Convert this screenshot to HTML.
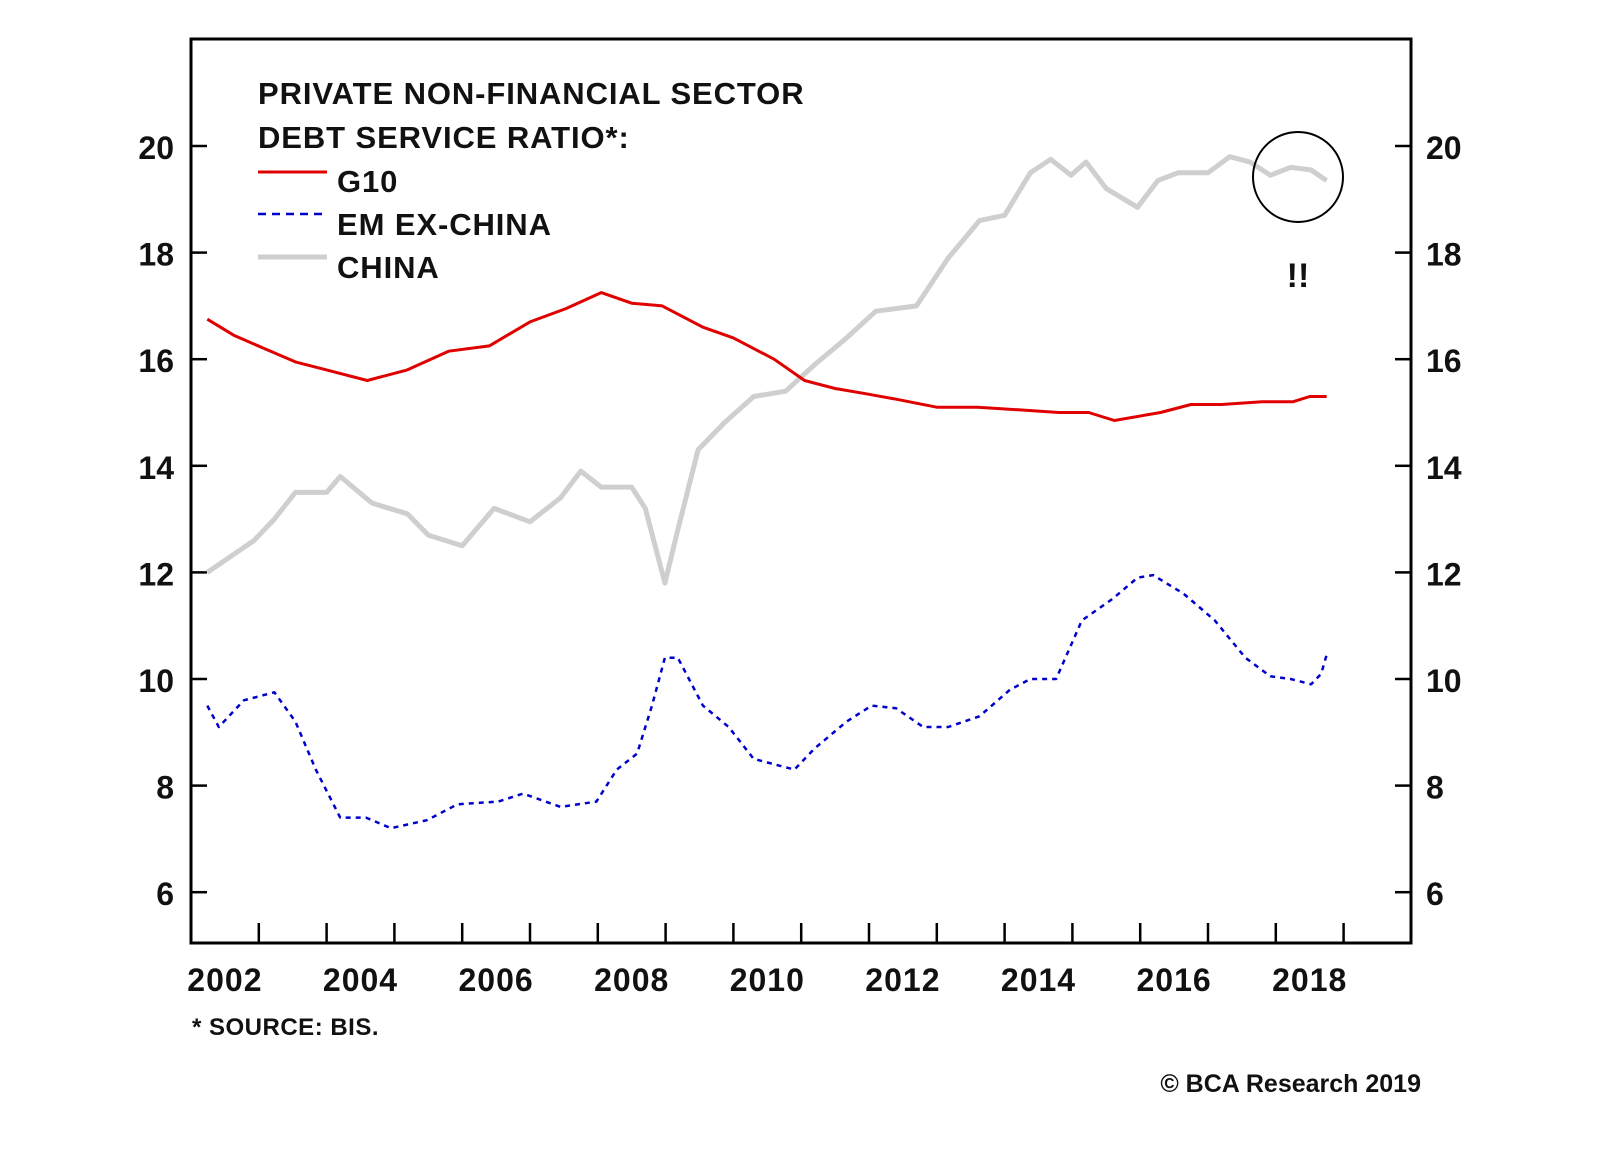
<!DOCTYPE html>
<html><head><meta charset="utf-8"><style>
body{margin:0;background:#fff;width:1600px;height:1152px;overflow:hidden}
svg text{font-family:"Liberation Sans",Arial,sans-serif;font-weight:bold;fill:#111}
</style></head><body>
<svg id="chart" width="1600" height="1152" xmlns="http://www.w3.org/2000/svg">
<g id="axes"></g>
<g id="series"></g>
<g>
<text x="258" y="104" font-size="31" letter-spacing="0.9">PRIVATE NON-FINANCIAL SECTOR</text>
<text x="258" y="148" font-size="31" letter-spacing="0.9">DEBT SERVICE RATIO*:</text>
<line x1="258" y1="172" x2="327" y2="172" stroke="#e00000" stroke-width="3"/>
<text x="337" y="192" font-size="31" letter-spacing="0.9">G10</text>
<line x1="258" y1="214" x2="327" y2="214" stroke="#0000cc" stroke-width="2.5" stroke-dasharray="8,6"/>
<text x="337" y="235" font-size="31" letter-spacing="0.9">EM EX-CHINA</text>
<line x1="258" y1="257" x2="327" y2="257" stroke="#cfcfcf" stroke-width="5"/>
<text x="337" y="278" font-size="31" letter-spacing="0.9">CHINA</text>
</g>
<circle cx="1298" cy="177" r="45" fill="none" stroke="#000" stroke-width="2"/>
<text x="1298" y="287" font-size="34" text-anchor="middle">!!</text>
<text x="192" y="1035" font-size="24" letter-spacing="0.5">* SOURCE: BIS.</text>
<text x="1421" y="1092" font-size="25" text-anchor="end">© BCA Research 2019</text>
</svg>
<script>
const yTicks=[6,8,10,12,14,16,18,20];
const yearLabels=[2002,2004,2006,2008,2010,2012,2014,2016,2018];
const chinaX=[2002.24,2002.93,2003.23,2003.54,2004.0,2004.2,2004.67,2005.19,2005.5,2006.0,2006.47,2007.0,2007.45,2007.75,2008.05,2008.5,2008.7,2008.99,2009.18,2009.48,2009.86,2010.3,2010.77,2011.2,2011.67,2012.1,2012.7,2013.17,2013.63,2014.0,2014.38,2014.68,2014.98,2015.2,2015.5,2015.96,2016.26,2016.56,2017.0,2017.32,2017.62,2017.92,2018.22,2018.52,2018.75];
const chinaY=[12.0,12.6,13.0,13.5,13.5,13.8,13.3,13.1,12.7,12.5,13.2,12.95,13.4,13.9,13.6,13.6,13.2,11.8,12.8,14.3,14.8,15.3,15.4,15.9,16.4,16.9,17.0,17.9,18.6,18.7,19.5,19.75,19.45,19.7,19.2,18.85,19.35,19.5,19.5,19.8,19.7,19.45,19.6,19.55,19.35];
const g10X=[2002.24,2002.63,2003.08,2003.54,2004.0,2004.6,2005.19,2005.8,2006.4,2007.0,2007.53,2008.05,2008.5,2008.95,2009.55,2010.0,2010.6,2011.05,2011.5,2011.96,2012.4,2013.0,2013.6,2014.2,2014.8,2015.24,2015.62,2016.3,2016.75,2017.2,2017.8,2018.25,2018.5,2018.75];
const g10Y=[16.75,16.45,16.2,15.95,15.8,15.6,15.8,16.15,16.25,16.7,16.95,17.25,17.05,17.0,16.6,16.4,16.0,15.6,15.45,15.35,15.25,15.1,15.1,15.05,15.0,15.0,14.85,15.0,15.15,15.15,15.2,15.2,15.3,15.3];
const emX=[2002.24,2002.41,2002.78,2003.23,2003.54,2003.84,2004.2,2004.58,2004.95,2005.48,2005.93,2006.53,2006.9,2007.45,2007.98,2008.28,2008.58,2008.8,2008.99,2009.18,2009.55,2009.93,2010.3,2010.9,2011.2,2011.67,2012.04,2012.4,2012.8,2013.17,2013.63,2014.08,2014.38,2014.76,2015.14,2015.59,2015.96,2016.19,2016.64,2017.1,2017.55,2017.92,2018.22,2018.52,2018.67,2018.75];
const emY=[9.5,9.1,9.6,9.75,9.2,8.3,7.4,7.4,7.2,7.35,7.65,7.7,7.85,7.6,7.7,8.3,8.6,9.5,10.4,10.4,9.5,9.1,8.5,8.3,8.7,9.2,9.5,9.45,9.1,9.1,9.3,9.8,10.0,10.0,11.1,11.5,11.9,11.95,11.6,11.1,10.4,10.05,10.0,9.9,10.1,10.45];
const L=191,R=1411,T=39,B=943;
const xs=yr=>L+(yr-2002)*67.8;
const ys=v=>146+(20-v)*53.3;
const NS='http://www.w3.org/2000/svg';
function mk(tag,at,parent){const e=document.createElementNS(NS,tag);for(const k in at)e.setAttribute(k,at[k]);parent.appendChild(e);return e;}
const ax=document.getElementById('axes');
let fr=mk('rect',{x:L,y:T,width:R-L,height:B-T,fill:'none',stroke:'#000','stroke-width':3},ax);


yTicks.forEach(v=>{
 const y=ys(v);
 let t1=mk('line',{x1:L,y1:y,x2:L+16,y2:y,stroke:'#000','stroke-width':2.5},ax);
 
 
 let t2=mk('line',{x1:R-16,y1:y,x2:R,y2:y,stroke:'#000','stroke-width':2.5},ax);
 
 
 let l1=mk('text',{x:174,y:y+13,'font-size':32,'text-anchor':'end'},ax);l1.textContent=v;
 
 
 let l2=mk('text',{x:1426,y:y+13,'font-size':32},ax);l2.textContent=v;
 
 
});
for(let yr=2003;yr<=2019;yr++){
 let t=mk('line',{x1:xs(yr),y1:B,x2:xs(yr),y2:B-20,stroke:'#000','stroke-width':2.5},ax);
 
 
}
yearLabels.forEach(yr=>{
 let t=mk('text',{x:xs(yr+0.5),y:991,'font-size':32,'letter-spacing':1,'text-anchor':'middle'},ax);t.textContent=yr;
 
 
});
const sg=document.getElementById('series');
function line(X,Y,st,name){
 const d=X.map((x,i)=>(i?'L':'M')+xs(x).toFixed(1)+','+ys(Y[i]).toFixed(1)).join(' ');
 const p=mk('path',Object.assign({d:d,fill:'none','stroke-linejoin':'round'},st),sg);
 
 
}
line(chinaX,chinaY,{stroke:'#cfcfcf','stroke-width':5},'china-line');
line(g10X,g10Y,{stroke:'#e00000','stroke-width':3},'g10-line');
line(emX,emY,{stroke:'#0000cc','stroke-width':2.5,'stroke-dasharray':'5,5'},'em-ex-china-line');
</script>
</body></html>
